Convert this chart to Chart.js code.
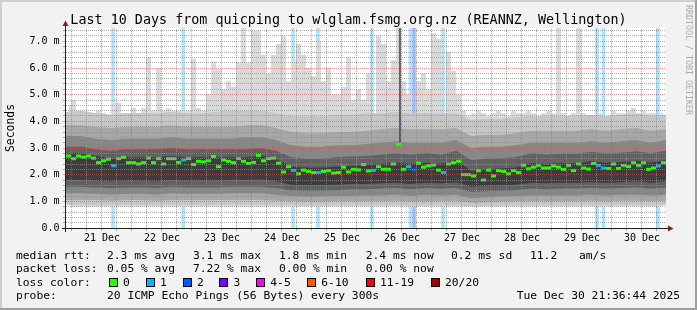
<!DOCTYPE html>
<html>
<head>
<meta charset="utf-8">
<script src="https://cdn.jsdelivr.net/npm/chart.js@4.4.1/dist/chart.umd.min.js"></script>
<style>
  html, body { margin: 0; padding: 0; background: #f2f2f2; }
  canvas { display: block; }
</style>
</head>
<body>
<canvas id="rtt" width="697" height="310"></canvas>
<script>
// x values are hours since the graph start (Sun Dec 20 21:36:44 2025), 10 days wide
const dayLabels = ['21 Dec', '22 Dec', '23 Dec', '24 Dec', '25 Dec', '26 Dec', '27 Dec', '28 Dec', '29 Dec', '30 Dec'];
const firstMidnight = 2.388;   // 00:00 Dec 21
const yTickLabels = ['0.0', '1.0 m', '2.0 m', '3.0 m', '4.0 m', '5.0 m', '6.0 m', '7.0 m'];

// median rtt (ms), one value per 2 hours
const medianRtt = [
  2.70, 2.60, 2.70, 2.66, 2.70, 2.62, 2.45, 2.52, 2.58, 2.34, 2.60, 2.65, 2.45, 2.45, 2.40, 2.45, 2.62, 2.45, 2.60, 2.40,
  2.60, 2.60, 2.46, 2.55, 2.60, 2.38, 2.50, 2.48, 2.52, 2.68, 2.30, 2.55, 2.50, 2.45, 2.60, 2.50, 2.42, 2.46, 2.72, 2.52,
  2.60, 2.62, 2.43, 2.10, 2.30, 2.16, 2.03, 2.17, 2.12, 2.08, 2.08, 2.12, 2.15, 2.06, 2.08, 2.28, 2.10, 2.20, 2.18, 2.38,
  2.14, 2.16, 2.30, 2.20, 2.20, 2.40, 3.14, 2.20, 2.30, 2.18, 2.43, 2.28, 2.33, 2.36, 2.17, 2.08, 2.40, 2.45, 2.50, 2.00,
  2.00, 1.95, 2.15, 1.80, 2.17, 1.95, 2.15, 2.12, 2.03, 2.15, 2.08, 2.35, 2.22, 2.28, 2.35, 2.25, 2.25, 2.33, 2.28, 2.20,
  2.35, 2.15, 2.40, 2.25, 2.21, 2.42, 2.35, 2.25, 2.23, 2.40, 2.23, 2.35, 2.30, 2.45, 2.35, 2.45, 2.20, 2.25, 2.33, 2.45
];

// slowest ping (ms), one value per 2 hours
const maxRtt = [
  4.6, 4.8, 4.3, 4.2, 4.3, 4.3, 4.4, 4.3, 4.2, 4.7, 4.7, 4.3, 4.3, 4.5, 4.3, 4.5, 6.4, 4.4, 6.0, 4.4,
  4.5, 4.4, 4.4, 4.4, 4.4, 6.35, 4.5, 4.4, 5.0, 6.25, 5.95, 5.2, 5.5, 5.3, 6.2, 7.5, 6.2, 7.4, 7.4, 6.5,
  5.8, 6.5, 6.9, 7.2, 5.5, 6.3, 6.9, 6.5, 6.0, 5.7, 7.0, 5.5, 6.0, 5.0, 5.0, 5.3, 6.4, 4.8, 5.2, 4.8,
  5.8, 4.3, 7.2, 6.9, 5.5, 6.3, 7.5, 5.5, 5.0, 4.2, 5.5, 5.8, 5.2, 7.3, 7.1, 4.1, 6.6, 5.9, 5.0, 4.4,
  4.2, 4.3, 4.4, 4.3, 4.2, 4.3, 4.4, 4.3, 4.2, 4.4, 4.3, 4.3, 4.4, 4.3, 4.2, 4.3, 4.4, 4.3, 7.5, 4.3,
  4.2, 4.3, 7.5, 4.3, 4.2, 4.2, 4.3, 4.0, 4.2, 4.4, 4.3, 4.3, 4.4, 4.5, 4.3, 4.4, 4.3, 4.3, 4.0, 4.3
];

// smoke bands (ms), one value per 6 hours, outer to inner
const smokeOuterHi = [4.35, 4.4, 4.3, 4.25, 4.3, 4.3, 4.3, 4.35, 4.3, 4.3, 4.35, 4.4, 4.4, 4.4, 4.3, 4.2, 4.2, 4.2, 4.25, 4.25, 4.3, 4.3, 4.35, 4.3, 4.3, 4.3, 4.3, 4.05, 4.1, 4.1, 4.15, 4.2, 4.2, 4.2, 4.2, 4.25, 4.2, 4.25, 4.3, 4.2, 4.25];
const smokeOuterLo = [0.87, 0.87, 0.86, 0.85, 0.86, 0.86, 0.85, 0.87, 0.86, 0.86, 0.86, 0.87, 0.87, 0.87, 0.85, 0.85, 0.84, 0.84, 0.85, 0.85, 0.85, 0.85, 0.86, 0.84, 0.85, 0.85, 0.86, 0.82, 0.83, 0.84, 0.85, 0.85, 0.85, 0.85, 0.85, 0.86, 0.85, 0.86, 0.86, 0.85, 0.86];
const smokeWideHi = [3.85, 3.85, 3.8, 3.75, 3.8, 3.8, 3.8, 3.85, 3.8, 3.8, 3.8, 3.8, 3.85, 3.85, 3.75, 3.6, 3.55, 3.55, 3.6, 3.6, 3.65, 3.7, 3.75, 3.7, 3.7, 3.7, 3.75, 3.45, 3.5, 3.5, 3.55, 3.65, 3.65, 3.65, 3.65, 3.7, 3.65, 3.7, 3.75, 3.65, 3.7];
const smokeWideLo = [1.05, 1.05, 1.05, 1.02, 1.05, 1.05, 1.02, 1.05, 1.05, 1.05, 1.05, 1.05, 1.05, 1.05, 1.02, 1.0, 0.98, 0.98, 1.0, 1.0, 1.0, 1.0, 1.02, 0.98, 1.0, 1.0, 1.02, 0.95, 0.97, 0.98, 1.0, 1.0, 1.0, 1.0, 1.0, 1.02, 1.0, 1.02, 1.02, 1.0, 1.02];
const smokeMidHi = [3.45, 3.45, 3.35, 3.3, 3.35, 3.35, 3.35, 3.4, 3.35, 3.35, 3.35, 3.35, 3.4, 3.4, 3.3, 3.1, 3.05, 3.05, 3.1, 3.1, 3.15, 3.2, 3.25, 3.2, 3.2, 3.2, 3.3, 3.0, 3.05, 3.05, 3.1, 3.2, 3.2, 3.2, 3.2, 3.25, 3.2, 3.25, 3.3, 3.2, 3.3];
const smokeMidLo = [1.3, 1.3, 1.28, 1.25, 1.28, 1.28, 1.25, 1.3, 1.28, 1.28, 1.28, 1.3, 1.3, 1.3, 1.25, 1.2, 1.18, 1.18, 1.2, 1.2, 1.22, 1.22, 1.25, 1.2, 1.25, 1.22, 1.25, 1.12, 1.15, 1.18, 1.2, 1.22, 1.22, 1.22, 1.22, 1.25, 1.22, 1.25, 1.25, 1.22, 1.25];
const smokeNearHi = [3.05, 3.05, 2.95, 2.9, 2.95, 2.95, 2.95, 3.0, 2.95, 2.95, 2.95, 2.95, 2.95, 3.0, 2.9, 2.65, 2.6, 2.6, 2.65, 2.68, 2.7, 2.75, 2.8, 2.75, 2.8, 2.75, 2.9, 2.55, 2.6, 2.62, 2.65, 2.8, 2.75, 2.78, 2.78, 2.85, 2.8, 2.82, 2.88, 2.8, 2.9];
const smokeNearLo = [1.55, 1.55, 1.52, 1.5, 1.52, 1.52, 1.5, 1.55, 1.52, 1.52, 1.52, 1.55, 1.55, 1.55, 1.5, 1.42, 1.4, 1.4, 1.42, 1.45, 1.45, 1.48, 1.5, 1.45, 1.5, 1.48, 1.5, 1.35, 1.38, 1.4, 1.42, 1.48, 1.45, 1.48, 1.48, 1.5, 1.48, 1.5, 1.52, 1.48, 1.52];
const smokeCoreHi = [2.8, 2.8, 2.7, 2.6, 2.65, 2.65, 2.65, 2.7, 2.65, 2.65, 2.65, 2.65, 2.65, 2.7, 2.6, 2.3, 2.27, 2.27, 2.3, 2.33, 2.35, 2.4, 2.45, 2.4, 2.45, 2.4, 2.55, 2.15, 2.2, 2.23, 2.27, 2.43, 2.4, 2.43, 2.43, 2.5, 2.45, 2.47, 2.53, 2.45, 2.55];
const smokeCoreLo = [1.8, 1.8, 1.78, 1.75, 1.78, 1.78, 1.75, 1.8, 1.78, 1.78, 1.78, 1.8, 1.8, 1.82, 1.75, 1.62, 1.6, 1.6, 1.62, 1.65, 1.65, 1.68, 1.7, 1.65, 1.7, 1.68, 1.72, 1.55, 1.58, 1.6, 1.62, 1.7, 1.68, 1.7, 1.7, 1.72, 1.7, 1.72, 1.75, 1.7, 1.75];
const smokeFloor = 0.8;

// loss events: hour and lost pings out of 20
const lossHours = [18.8, 46.9, 90.8, 100.8, 122.4, 137.8, 139.2, 150.8, 212.4, 215.0, 236.8];
const lossCounts = [1, 1, 1, 1, 1, 1, 2, 1, 1, 1, 1];

// one wide-spread interval on 26 Dec
const spreadHours = [133.6];
const spreadLow = [3.1];
const spreadHigh = [7.5];

const lossLegend = ['0', '1', '2', '3', '4-5', '6-10', '11-19', '20/20'];
const lossColors = ['#26ff00', '#00b8ff', '#0059ff', '#7e00ff', '#ff00ff', '#ff5500', '#ff0000', '#a10000'];
const lossBarColors = ['#ffffff', '#aae4ff', '#9fbcff'];

const slotHours = 2, smokeStep = 6;
const FONT = '"DejaVu Sans Mono", monospace';

const medianColors = medianRtt.map((v, i) => {
  let n = 0;
  lossHours.forEach((h, j) => {
    if (h >= i * slotHours && h < (i + 1) * slotHours) n = Math.max(n, lossCounts[j]);
  });
  return lossColors[n];
});

const smokeLayers = [
  { hi: smokeOuterHi, lo: smokeOuterLo, color: '#c6c6c6' },
  { hi: smokeWideHi, lo: smokeWideLo, color: '#a7a7a7' },
  { hi: smokeMidHi, lo: smokeMidLo, color: '#868686' },
  { hi: smokeNearHi, lo: smokeNearLo, color: '#616161' },
  { hi: smokeCoreHi, lo: smokeCoreLo, color: '#3d3d3d' }
];

const datasets = [];
datasets.push({
  type: 'bar',
  data: lossHours.map((h, i) => ({ x: h, y: 7.5 })),
  backgroundColor: lossCounts.map(n => lossBarColors[n]),
  barThickness: 3,
  grouped: false,
  borderWidth: 0,
  order: 20
});
datasets.push({
  type: 'line',
  data: maxRtt.map((v, i) => ({ x: i * slotHours + slotHours / 2, y: v })),
  stepped: 'middle',
  borderWidth: 0,
  pointRadius: 0,
  backgroundColor: '#dadada',
  fill: { value: smokeFloor },
  order: 19
});
smokeLayers.forEach((layer, k) => {
  const loIndex = datasets.length + 1;
  datasets.push({
    type: 'line',
    data: layer.hi.map((v, i) => ({ x: i * smokeStep, y: v })),
    borderWidth: 0,
    pointRadius: 0,
    backgroundColor: layer.color,
    fill: loIndex,
    order: 18 - k
  });
  datasets.push({
    type: 'line',
    data: layer.lo.map((v, i) => ({ x: i * smokeStep, y: v })),
    borderWidth: 0,
    pointRadius: 0,
    fill: false,
    order: 18 - k
  });
});
datasets.push({
  type: 'bar',
  data: spreadHours.map((h, i) => ({ x: h, y: [spreadLow[i], spreadHigh[i]] })),
  backgroundColor: '#4c4c4c',
  barThickness: 1,
  grouped: false,
  borderWidth: 0,
  order: 5
});
datasets.push({
  type: 'line',
  data: medianRtt.map((v, i) => ({ x: i * slotHours + slotHours / 2, y: v })),
  showLine: false,
  pointStyle: 'line',
  pointRadius: 2.5,
  pointHoverRadius: 2.5,
  pointBorderWidth: 3,
  pointBorderColor: medianColors,
  pointBackgroundColor: medianColors,
  order: 1
});

const MAJOR = 'rgba(222,79,79,0.6)';
const MINOR = 'rgba(143,143,143,0.75)';
const isMajorX = i => i % 4 === 0;
const isMajorY = i => i % 5 === 0;

const rrdFrame = {
  id: 'rrdFrame',
  beforeDraw(chart) {
    const { ctx, chartArea: a } = chart;
    ctx.save();
    ctx.fillStyle = '#f2f2f2';
    ctx.fillRect(0, 0, 697, 310);
    ctx.fillStyle = '#cfcfcf';
    ctx.fillRect(0, 0, 697, 2);
    ctx.fillRect(0, 0, 2, 310);
    ctx.fillStyle = '#9e9e9e';
    ctx.fillRect(0, 308, 697, 2);
    ctx.fillRect(695, 0, 2, 310);
    ctx.fillStyle = '#ffffff';
    ctx.fillRect(a.left, a.top, a.right - a.left, a.bottom - a.top);
    ctx.restore();
  },
  afterDatasetsDraw(chart) {
    // dotted grid on top of the smoke, like rrdtool
    const { ctx, chartArea: a, scales } = chart;
    ctx.save();
    ctx.lineWidth = 1;
    ctx.setLineDash([1, 1]);
    scales.x.ticks.forEach((t, i) => {
      const x = Math.floor(scales.x.getPixelForValue(t.value)) + 0.5;
      ctx.strokeStyle = isMajorX(i) ? MAJOR : MINOR;
      ctx.beginPath();
      ctx.moveTo(x, a.bottom);
      ctx.lineTo(x, a.top);
      ctx.stroke();
    });
    scales.y.ticks.forEach((t, i) => {
      if (i === 0) return;
      const y = Math.floor(scales.y.getPixelForValue(t.value)) + 0.5;
      ctx.strokeStyle = isMajorY(i) ? MAJOR : MINOR;
      ctx.beginPath();
      ctx.moveTo(a.left, y);
      ctx.lineTo(a.right, y);
      ctx.stroke();
    });
    ctx.restore();
  },
  afterDraw(chart) {
    const { ctx, chartArea: a } = chart;
    ctx.save();
    // axes with arrows
    ctx.strokeStyle = '#1f1f1f';
    ctx.lineWidth = 1;
    ctx.beginPath();
    ctx.moveTo(62, a.bottom + 0.5);
    ctx.lineTo(669, a.bottom + 0.5);
    ctx.moveTo(a.left - 0.5, a.bottom + 4);
    ctx.lineTo(a.left - 0.5, a.top - 3);
    ctx.stroke();
    ctx.fillStyle = '#801f1f';
    ctx.beginPath();
    ctx.moveTo(668, a.bottom - 2.5);
    ctx.lineTo(673.5, a.bottom + 0.5);
    ctx.lineTo(668, a.bottom + 3.5);
    ctx.closePath();
    ctx.fill();
    ctx.beginPath();
    ctx.moveTo(a.left - 3.5, a.top - 2);
    ctx.lineTo(a.left - 0.5, a.top - 7.5);
    ctx.lineTo(a.left + 2.5, a.top - 2);
    ctx.closePath();
    ctx.fill();

    // title
    ctx.fillStyle = '#000';
    ctx.font = '13.4px ' + FONT;
    ctx.textAlign = 'center';
    ctx.textBaseline = 'alphabetic';
    ctx.fillText('Last 10 Days from quicping to wlglam.fsmg.org.nz (REANNZ, Wellington)', 348.5, 24);

    // legend
    ctx.font = '11.3px ' + FONT;
    ctx.textAlign = 'left';
    const rows = [
      [258.5, [['median rtt:', 16], ['2.3 ms avg', 107], ['3.1 ms max', 193], ['1.8 ms min', 279], ['2.4 ms now', 365.7], ['0.2 ms sd', 451], ['11.2', 530], ['am/s', 579]]],
      [272, [['packet loss:', 16], ['0.05 % avg', 107], ['7.22 % max', 193], ['0.00 % min', 279], ['0.00 % now', 365.7]]],
      [285.7, [['loss color:', 16]]],
      [299.3, [['probe:', 16], ['20 ICMP Echo Pings (56 Bytes) every 300s', 107]]]
    ];
    rows.forEach(([y, items]) => items.forEach(([t, x]) => ctx.fillText(t, x, y)));
    const swatchX = [108.7, 145.7, 182.7, 219.3, 256, 307, 365.7, 430.7];
    lossLegend.forEach((lab, i) => {
      const x = Math.round(swatchX[i]);
      ctx.fillStyle = '#000';
      ctx.fillRect(x, 278, 9, 9);
      ctx.fillStyle = lossColors[i];
      ctx.fillRect(x + 1, 279, 7, 7);
      ctx.fillStyle = '#000';
      ctx.fillText(lab, swatchX[i] + 14.3, 285.7);
    });
    ctx.textAlign = 'right';
    ctx.fillText('Tue Dec 30 21:36:44 2025', 680, 299.3);

    // watermark
    ctx.translate(688.5, 5);
    ctx.rotate(Math.PI / 2);
    ctx.textAlign = 'left';
    ctx.textBaseline = 'middle';
    ctx.font = '8.3px ' + FONT;
    ctx.fillStyle = '#ababab';
    ctx.fillText('RRDTOOL / TOBI OETIKER', 0, 0);
    ctx.restore();
  }
};

Chart.defaults.font.family = FONT;
Chart.defaults.color = '#000';

new Chart(document.getElementById('rtt'), {
  type: 'line',
  data: { datasets },
  plugins: [rrdFrame],
  options: {
    responsive: false,
    animation: false,
    events: [],
    layout: { padding: { left: 0, top: 28, right: 31, bottom: 62 } },
    plugins: { legend: { display: false }, tooltip: { enabled: false }, title: { display: false } },
    scales: {
      x: {
        type: 'linear',
        min: 0,
        max: 240,
        offset: false,
        afterFit: s => { s.height = 20; },
        afterBuildTicks: s => {
          const t = [];
          for (let k = 0; firstMidnight + 6 * k < 240; k++) t.push({ value: firstMidnight + 6 * k });
          s.ticks = t;
        },
        ticks: {
          autoSkip: false,
          maxRotation: 0,
          padding: 1,
          font: { size: 10 },
          callback: (v, i) => (i % 4 === 2 ? dayLabels[(i - 2) / 4] : '')
        },
        grid: {
          offset: false,
          drawOnChartArea: false,
          tickLength: 3,
          color: c => (isMajorX(c.index) ? MAJOR : MINOR)
        },
        border: { display: false }
      },
      y: {
        type: 'linear',
        min: 0,
        max: 7.5,
        afterFit: s => { s.width = 66; },
        afterBuildTicks: s => {
          const t = [];
          for (let k = 0; k < 38; k++) t.push({ value: k / 5 });
          s.ticks = t;
        },
        ticks: {
          autoSkip: false,
          padding: 3.5,
          font: { size: 10 },
          callback: (v, i) => (isMajorY(i) ? yTickLabels[i / 5] : '')
        },
        grid: {
          drawOnChartArea: false,
          tickLength: 3,
          color: c => (isMajorY(c.index) ? MAJOR : MINOR)
        },
        border: { display: false },
        title: {
          display: true,
          text: 'Seconds',
          font: { size: 11.4 },
          padding: { top: 4, bottom: 0 }
        }
      }
    }
  }
});
</script>
</body>
</html>
